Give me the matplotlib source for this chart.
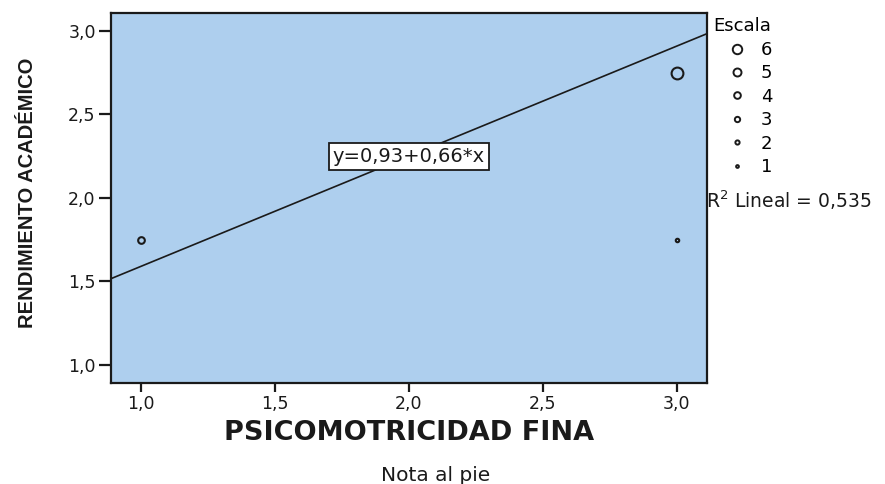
import matplotlib.pyplot as plt
from matplotlib.lines import Line2D
import numpy as np

plt.rcParams['font.family'] = ['DejaVu Sans']

# data
psico = [1.0, 3.0, 3.0]
rendimiento = [1.75, 2.75, 1.75]
escala = [3, 6, 1]
legend_levels = [6, 5, 4, 3, 2, 1]
intercept = 0.93
slope = 0.66
r2 = 0.535
ticks = [1.0, 1.5, 2.0, 2.5, 3.0]

msize = {6: 8.5, 5: 7.2, 4: 6.0, 3: 4.8, 2: 3.8, 1: 2.5}
bg = '#aecfee'
ink = '#1a1a1a'

fig = plt.figure(figsize=(8.85, 4.84), dpi=100)
ax = fig.add_axes([0.1254, 0.2087, 0.6734, 0.7645])
ax.set_facecolor(bg)

ax.set_xlim(0.889, 3.112)
ax.set_ylim(0.892, 3.108)

xs = np.array(ax.get_xlim())
ax.plot(xs, intercept + slope * xs, color=ink, lw=1.2, zorder=2)

for x, y, s in zip(psico, rendimiento, escala):
    ax.plot(x, y, 'o', ms=msize[s], mfc='none', mec=ink, mew=1.5, zorder=3)

ax.text(2.0, 2.25, 'y=0,93+0,66*x', ha='center', va='center', fontsize=14,
        color=ink, bbox=dict(boxstyle='square,pad=0.2', fc='white', ec=ink, lw=1.3))

ax.set_xticks(ticks)
ax.set_yticks(ticks)
ax.set_xticklabels([f'{t:.1f}'.replace('.', ',') for t in ticks])
ax.set_yticklabels([f'{t:.1f}'.replace('.', ',') for t in ticks])
ax.tick_params(direction='out', width=1.6, color=ink, labelsize=12.5, labelcolor=ink)
ax.tick_params(axis='x', length=6.5, pad=2.5)
ax.tick_params(axis='y', length=9, pad=2)
for sp in ax.spines.values():
    sp.set_color(ink)
    sp.set_linewidth(1.6)

fig.text(0.462, 0.091, 'PSICOMOTRICIDAD FINA', ha='center', va='baseline',
         fontsize=19.5, fontweight='bold', color=ink)
fig.text(0.031, 0.601, 'RENDIMIENTO ACADÉMICO', rotation=90, ha='center', va='center',
         fontsize=14.5, fontweight='bold', color=ink,
         family=['Liberation Sans Narrow', 'Liberation Sans', 'DejaVu Sans'])

handles = [Line2D([], [], ls='none', marker='o', ms=msize[s] * 0.8, mfc='none', mec=ink,
                  mew=1.4) for s in legend_levels]
leg = fig.legend(handles, [str(s) for s in legend_levels], title='Escala',
                 loc='upper left', bbox_to_anchor=(713 / 885, 0.964), frameon=False,
                 fontsize=13, title_fontsize=13, handlelength=2.66, handletextpad=0.0,
                 labelspacing=0.3, borderpad=0.0, borderaxespad=0.0, alignment='left')

fig.text(706 / 885, 0.570, 'R$^2$ Lineal = 0,535', fontsize=13.5, va='baseline', ha='left',
         color=ink)
fig.text(436 / 885, 0.007, 'Nota al pie', fontsize=14.5, ha='center', va='baseline',
         color=ink)

fig.savefig('out.png', dpi=100)
